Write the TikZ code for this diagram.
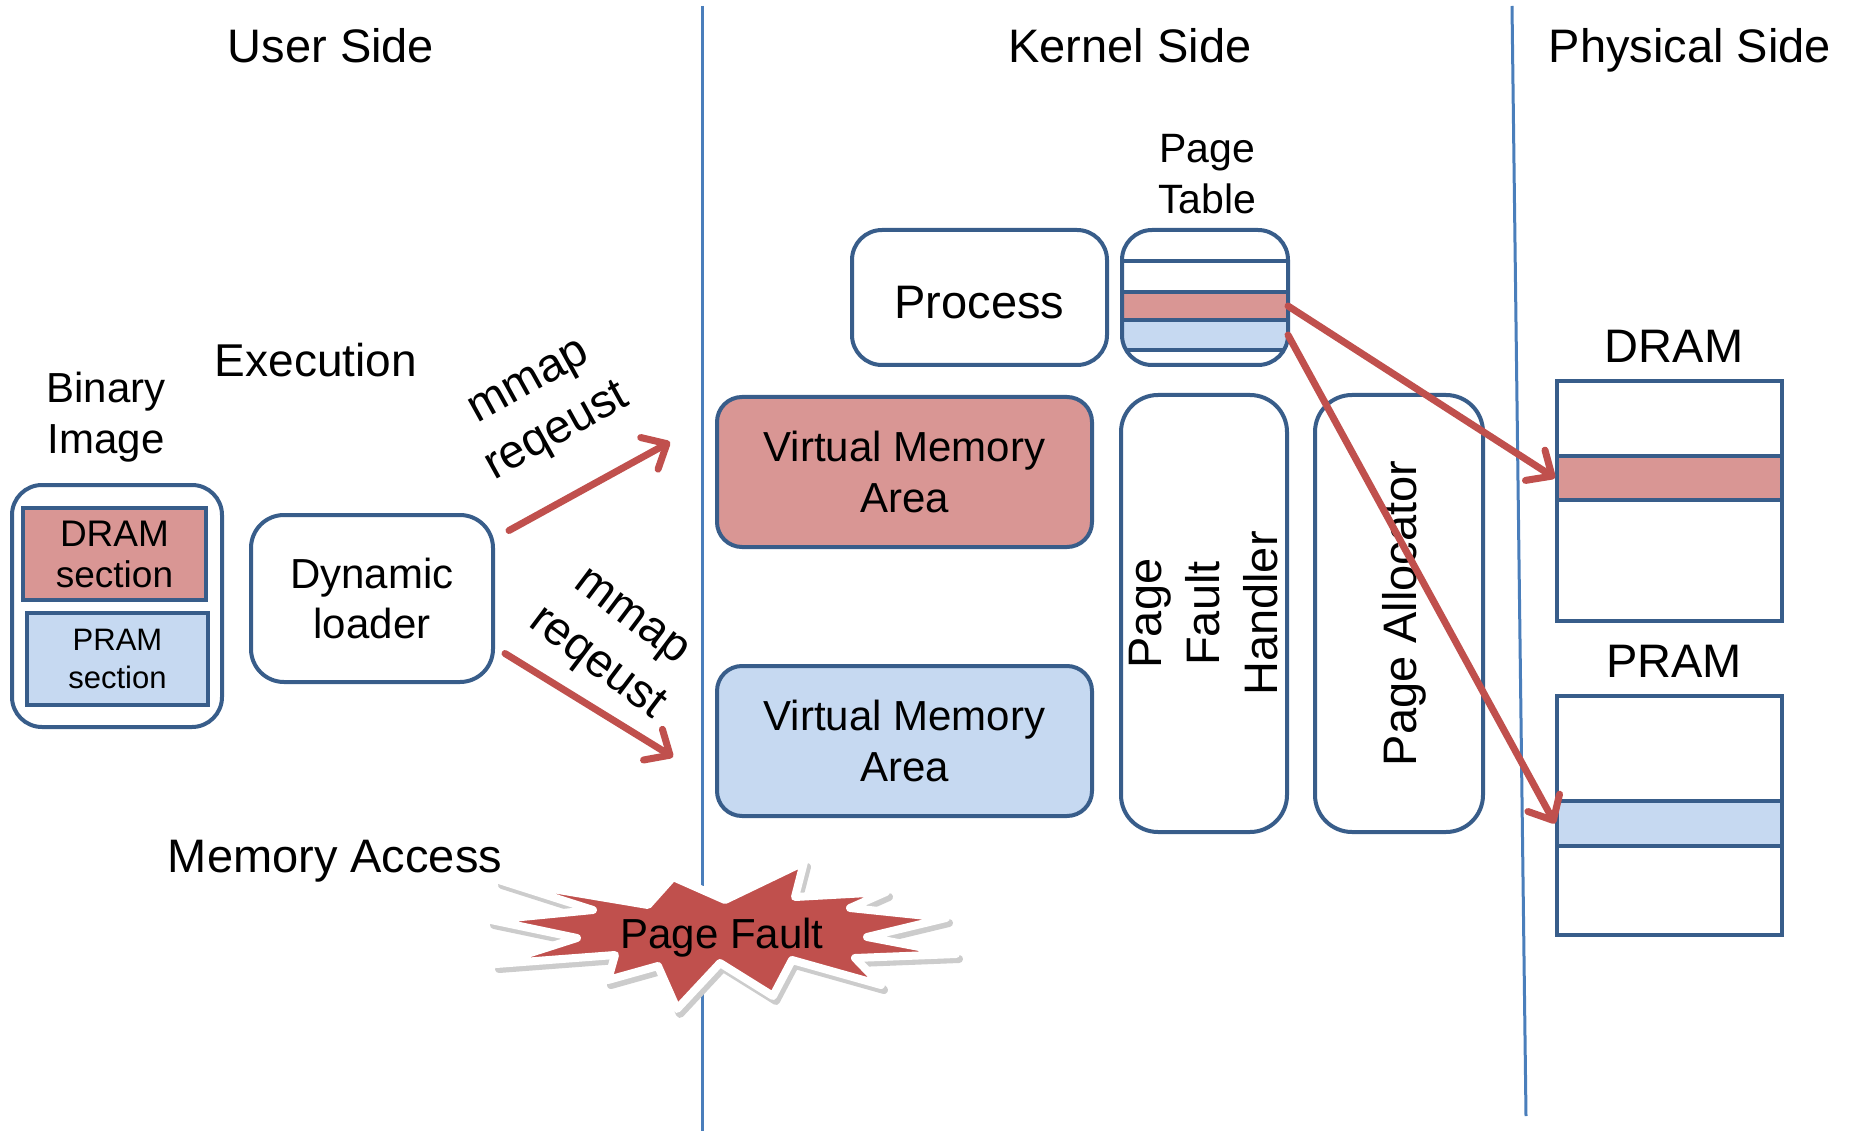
\documentclass[tikz,border=0pt]{standalone}
\usepackage{fontspec}
\setmainfont{Liberation Sans}
\usetikzlibrary{arrows.meta}
\definecolor{bord}{HTML}{385D8A}
\definecolor{redfill}{HTML}{D99694}
\definecolor{bluefill}{HTML}{C6D9F1}
\definecolor{arrowred}{HTML}{C0504D}
\definecolor{divider}{HTML}{4A7EBB}
\newcommand{\myfs}[2]{\fontsize{#1}{#2}\selectfont}
\begin{document}
\begin{tikzpicture}[x=1pt,y=-1pt,
  box/.style={draw=bord, line width=4pt, rounded corners=#1, fill=white, inner sep=0pt, align=center},
  box/.default=30pt,
  sq/.style={draw=bord, line width=4pt, inner sep=0pt, align=center},
  lbl/.style={inner sep=0pt, align=center},
  req/.style={draw=arrowred, line width=7pt, line cap=round, line join=round,
    -{Straight Barb[length=20pt,width=36pt,round]}},
  divline/.style={draw=divider, line width=3pt},
]
\useasboundingbox (0,0) rectangle (1853,1131);
\fill[white] (0,0) rectangle (1853,1131);

% dividers
\draw[divline] (702,6) -- (702,1131);
\draw[divline] (1512,6) -- (1526,1116);

% titles
\node[lbl, anchor=base, font=\myfs{47}{56}] (tuser) at (331,63) {User Side};
\node[lbl, anchor=base, font=\myfs{47}{56}] (tkernel) at (1130,63) {Kernel Side};
\node[lbl, anchor=base, font=\myfs{47}{56}] (tphys) at (1690,63) {Physical Side};

% user side
\node[lbl, font=\myfs{42}{51}] (binlbl) at (106,417) {Binary\\Image};
\node[lbl, anchor=base, font=\myfs{46}{56}] (exec) at (316,377) {Execution};
\node[lbl, anchor=base, font=\myfs{47}{56}] (memacc) at (335,872) {Memory Access};

\node[box, minimum width=210pt, minimum height=242pt] (binbox) at (117,606) {};
\node[sq, fill=redfill, minimum width=183pt, minimum height=92pt, font=\myfs{37}{41}] (dsec) at (114.5,554) {DRAM\\section};
\node[sq, fill=bluefill, minimum width=181pt, minimum height=92pt, font=\myfs{31}{38}] (psec) at (117.5,659) {PRAM\\section};

\node[box=33pt, minimum width=242pt, minimum height=167pt, font=\myfs{42}{50}] (loader) at (372,598.5) {Dynamic\\loader};

% mmap requests
\coordinate (vmaup) at (670,442);
\coordinate (vmadown) at (673,757);
\draw[req] ([shift={(14,-68)}]loader.east) -- (vmaup);
\draw[req] ([shift={(10,55)}]loader.east) -- (vmadown);
\node[lbl, rotate=29, font=\myfs{47}{58}] (mm1) at (545,410) {mmap\\reqeust};
\node[lbl, rotate=-37, font=\myfs{47}{58}] (mm2) at (612,643) {mmap\\reqeust};

% page fault star
\filldraw[black!20, line width=8pt, line join=round, shift={(3,5)}]
  (491,920) -- (593,910) -- (499,880) -- (648,905) -- (673,877) -- (725,900) --
  (804,862) -- (795,897) -- (886,892) -- (850,908) -- (946,918) -- (867,937) --
  (956,954) -- (855,958) -- (881,985) -- (792,960) -- (773,996) -- (720,963) --
  (677,1009) -- (658,966) -- (608,980) -- (615,955) -- (496,964) -- (577,938) -- cycle;
\draw[fill=arrowred, draw=white, line width=8pt, line join=round]
  (491,920) -- (593,910) -- (499,880) -- (648,905) -- (673,877) -- (725,900) --
  (804,862) -- (795,897) -- (886,892) -- (850,908) -- (946,918) -- (867,937) --
  (956,954) -- (855,958) -- (881,985) -- (792,960) -- (773,996) -- (720,963) --
  (677,1009) -- (658,966) -- (608,980) -- (615,955) -- (496,964) -- (577,938) -- cycle;
\node[lbl, anchor=base, font=\myfs{42}{50}] (pf) at (722,948) {Page Fault};

% kernel side
\node[box, minimum width=255pt, minimum height=135pt, font=\myfs{47}{56}, text height=43pt, text depth=0pt] (proc) at (979.5,297.5) {Process};
\node[lbl, font=\myfs{41}{51}] (ptlbl) at (1207,174) {Page\\Table};

\begin{scope}
  \clip[rounded corners=30pt] (1122,230) rectangle (1288,365);
  \fill[white] (1122,230) rectangle (1288,365);
  \draw[bord, line width=4pt] (1122,261) -- (1288,261);
  \node[sq, fill=redfill, minimum width=170pt, minimum height=28pt] (ptred) at (1205,306) {};
  \node[sq, fill=bluefill, minimum width=170pt, minimum height=30pt] (ptblue) at (1205,335) {};
\end{scope}
\draw[bord, line width=4pt, rounded corners=30pt] (1122,230) rectangle (1288,365);
\coordinate (ptredE) at (1288,306);
\coordinate (ptblueE) at (1288,335);

\node[box=25pt, fill=redfill, minimum width=375pt, minimum height=150pt, font=\myfs{42}{51}] (vmared) at (904.5,472) {Virtual Memory\\Area};
\node[box=25pt, fill=bluefill, minimum width=375pt, minimum height=150pt, font=\myfs{42}{51}] (vmablue) at (904.5,741) {Virtual Memory\\Area};

\node[box=37pt, rotate=90, minimum width=437pt, minimum height=166pt, font=\myfs{47}{58}] (pfh) at (1204,613.5) {Page\\Fault\\Handler};
\node[box=37pt, rotate=90, minimum width=437pt, minimum height=168pt, font=\myfs{47}{56}, text height=34pt, text depth=0pt] (palloc) at (1399,613.5) {Page Allocator};

% physical side
\node[lbl, anchor=base, font=\myfs{47}{56}] (dramlbl) at (1674,363) {DRAM};
\node[sq, fill=white, minimum width=225pt, minimum height=240pt] (dram) at (1669.5,501) {};
\node[sq, fill=redfill, minimum width=225pt, minimum height=44pt] (dramrow) at (1669.5,478) {};
\node[lbl, anchor=base, font=\myfs{47}{56}] (pramlbl) at (1674,677) {PRAM};
\node[sq, fill=white, minimum width=225pt, minimum height=239pt] (pram) at (1669.5,815.5) {};
\node[sq, fill=bluefill, minimum width=225pt, minimum height=45pt] (pramrow) at (1669.5,823.5) {};

% mapping arrows
\draw[req] (ptredE) -- (dramrow.west);
\draw[req] (ptblueE) -- (pramrow.west);
\end{tikzpicture}
\end{document}
